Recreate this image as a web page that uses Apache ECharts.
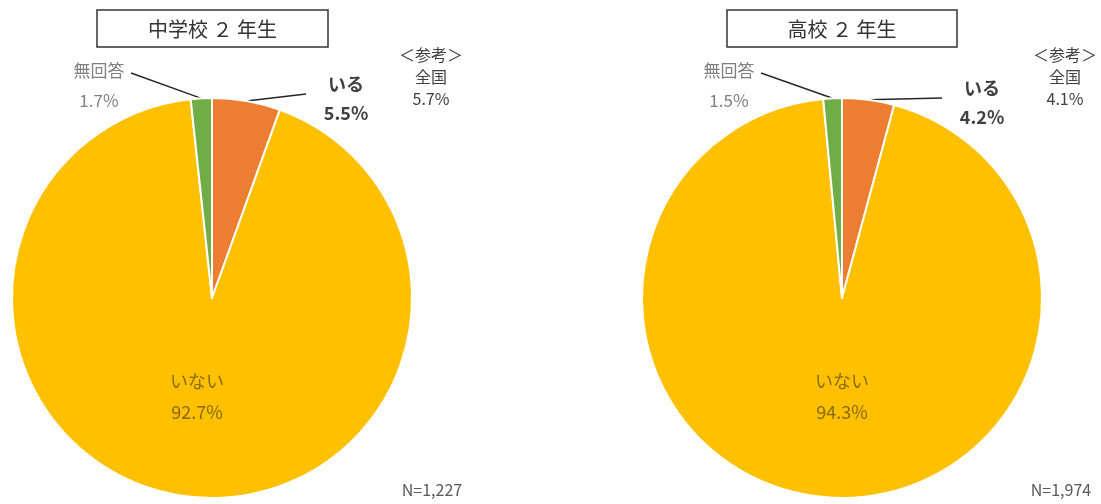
<!DOCTYPE html>
<html>
<head>
<meta charset="utf-8">
<script src="https://cdn.jsdelivr.net/npm/echarts@6/dist/echarts.min.js"></script>
<style>
  html, body { margin: 0; padding: 0; background: #fff; }
  #main { width: 1101px; height: 504px; }
</style>
</head>
<body>
<div id="main"></div>
<script>
// data
var categories = ['いる', 'いない', '無回答'];
var juniorHigh = [5.5, 92.7, 1.7];
var highSchool = [4.2, 94.3, 1.5];
var panelTitles = ['中学校 ２ 年生', '高校 ２ 年生'];
var nationalRef = ['5.7%', '4.1%'];
var sampleSizes = ['N=1,227', 'N=1,974'];

var colors = ['#ED7D31', '#FFC000', '#70AD47'];
var FONT = '"Noto Sans CJK JP", "Noto Sans", sans-serif';

var chart = echarts.init(document.getElementById('main'));

// label anchor for each slice, per panel
var labelPos = [
  [[346, 99], [197, 397], [99, 86]],
  [[982, 103], [842, 397], [729, 86]]
];

function makeData(values) {
  return values.map(function (v, i) {
    var item = {name: categories[i], value: v, itemStyle: {color: colors[i]}};
    if (i === 0) {
      item.label = {color: '#404040', fontWeight: 'bold', fontSize: 18, lineHeight: 29};
    } else if (i === 1) {
      item.label = {color: '#8a6a08', fontSize: 18, lineHeight: 31};
      item.labelLine = {show: false};
    } else {
      item.label = {color: '#7f7f7f', fontSize: 17, lineHeight: 30};
    }
    return item;
  });
}

function makeSeries(values, idx, cx) {
  return {
    type: 'pie',
    center: [cx, 298],
    radius: 200,
    startAngle: 90,
    clockwise: true,
    animation: false,
    silent: true,
    itemStyle: {borderColor: '#fff', borderWidth: 2},
    label: {
      show: true,
      fontFamily: FONT,
      formatter: function (p) {
        return p.name + '\n' + p.value.toFixed(1) + '%';
      }
    },
    labelLine: {show: true, lineStyle: {color: '#262626', width: 1.4}},
    labelLayout: function (params) {
      var pos = labelPos[idx][params.dataIndex];
      var res = {x: pos[0], y: pos[1], align: 'center', verticalAlign: 'middle'};
      var pts = params.labelLinePoints;
      if (pts && params.dataIndex !== 1) {
        var end = params.dataIndex === 0 ? [pos[0] - 40, pos[1] - 5] : [pos[0] + 32, pos[1] - 13];
        res.labelLinePoints = [pts[0], pts[0], end];
      }
      return res;
    },
    data: makeData(values)
  };
}

function titleBox(x, w, text) {
  return {
    type: 'group',
    children: [
      {type: 'rect', shape: {x: x, y: 10, width: w, height: 37},
        style: {fill: '#fff', stroke: '#333', lineWidth: 1.5}},
      {type: 'text', x: x + w / 2, y: 29,
        style: {text: text, font: '20px ' + FONT, fill: '#333', align: 'center', verticalAlign: 'middle'}}
    ]
  };
}

function refText(cx, val) {
  return {
    type: 'text', x: cx, y: 44,
    style: {text: '＜参考＞\n全国\n' + val, font: '16px ' + FONT, lineHeight: 22,
      fill: '#404040', align: 'center', verticalAlign: 'top'}
  };
}

function nText(cx, txt) {
  return {
    type: 'text', x: cx, y: 490,
    style: {text: txt, font: '16px ' + FONT, fill: '#595959', align: 'center', verticalAlign: 'middle'}
  };
}

var option = {
  backgroundColor: '#fff',
  series: [
    makeSeries(juniorHigh, 0, 212),
    makeSeries(highSchool, 1, 842)
  ],
  graphic: [
    titleBox(97, 231, panelTitles[0]),
    titleBox(727, 230, panelTitles[1]),
    refText(431, nationalRef[0]),
    refText(1065, nationalRef[1]),
    nText(432, sampleSizes[0]),
    nText(1061, sampleSizes[1])
  ]
};

chart.setOption(option);
</script>
</body>
</html>
